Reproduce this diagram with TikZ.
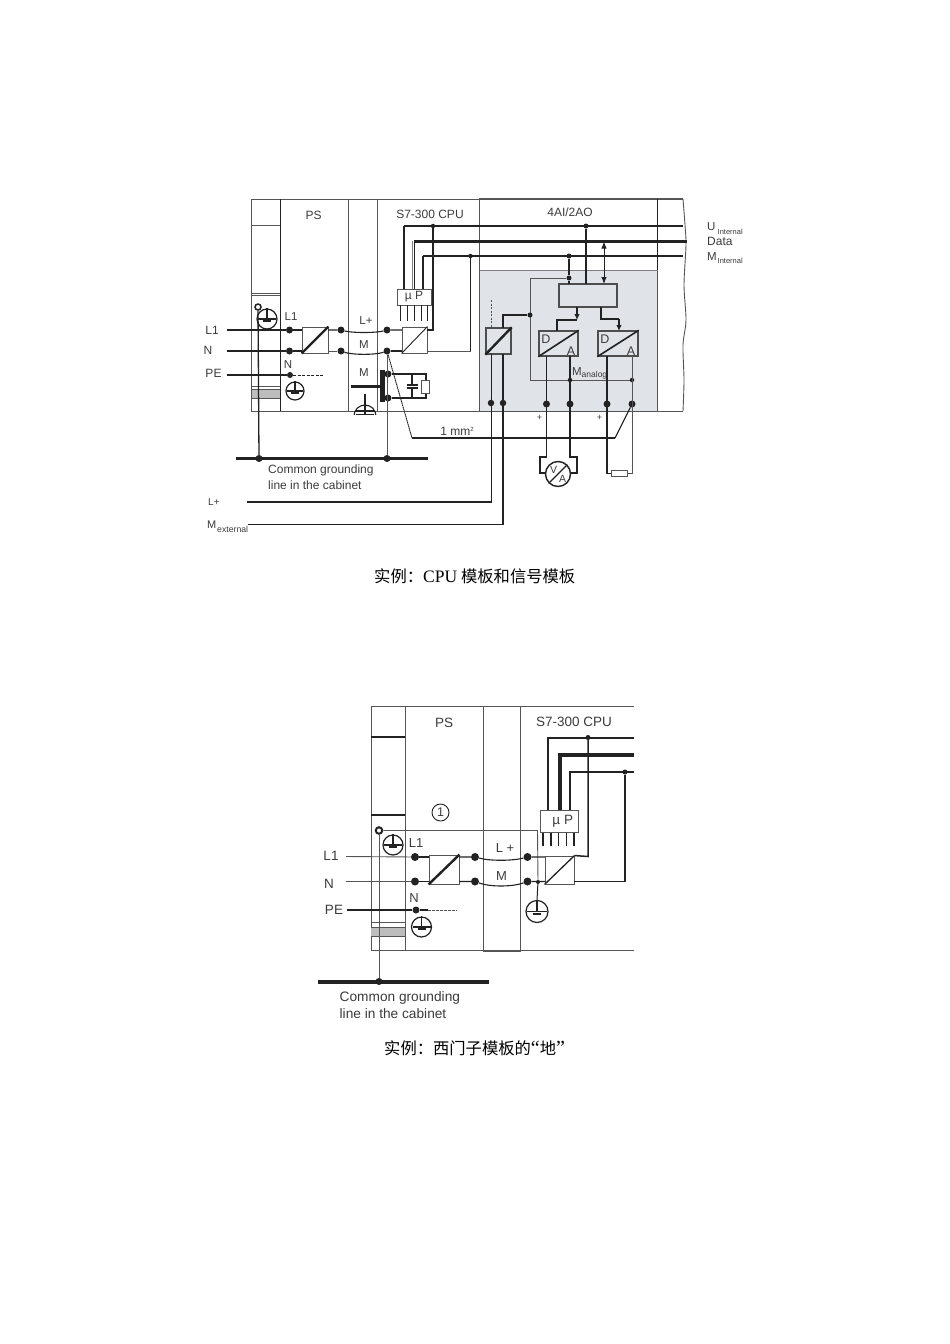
\documentclass[tikz,border=0pt]{standalone}
\usepackage{fontspec}
\setmainfont{Liberation Sans}
\newfontfamily\capserif{Liberation Serif}
\newfontfamily\capcjk{Noto Sans CJK SC}
\usetikzlibrary{arrows.meta,calc}
\definecolor{ink}{HTML}{222222}
\definecolor{txt}{HTML}{3C3C3C}
\definecolor{frameg}{HTML}{555555}
\definecolor{panel}{HTML}{E0E3E8}
\definecolor{band}{HTML}{BDBDBD}
\tikzset{
  lab/.style={inner sep=0pt,text=txt,font=\fontsize{#1}{#1}\selectfont},
  lab/.default=11,
  frame/.style={draw=frameg,line width=0.9pt},
  heavy/.style={draw=ink,line width=1.6pt},
  wire/.style={draw=ink,line width=1.1pt},
  thinw/.style={draw=frameg,line width=0.9pt},
  fat/.style={draw=ink,line width=3pt},
  jn/.style={circle,fill=ink,inner sep=0pt,minimum size=#1},
  jn/.default=7pt,
  conv/.style={draw=frameg,line width=0.9pt,fill=white,inner sep=0pt},
  twoway/.style={draw=ink,line width=1pt,{Latex[length=7pt,width=5.5pt]}-{Latex[length=7pt,width=5.5pt]}},
  oneway/.style={draw=ink,line width=1.4pt,-{Latex[length=6pt,width=5.5pt]}},
  caption/.style={inner sep=0pt,text=black,font=\fontsize{16.3}{16.3}\selectfont\capcjk},
}
\newcommand{\gndsym}[4]{%
  \node[circle,draw=ink,line width=1.2pt,minimum size=#4*2pt,inner sep=0pt,fill=white] (#1) at (#2,#3) {};
  \draw[ink,line width=1.2pt] (#1.north) -- (#1.center);
  \draw[ink,line width=1.2pt] ($(#1.center)+(-#4+1,0)$) -- ($(#1.center)+(#4-1,0)$);
  \draw[ink,line width=1.6pt] ($(#1.center)+(-#4*0.4,2.2)$) -- ($(#1.center)+(#4*0.4,2.2)$);
}
\newcommand{\convbox}[6]{%
  \node[conv,minimum width=#4pt-#2pt,minimum height=#5pt-#3pt] (#1) at ({(#2+#4)/2},{(#3+#5)/2}) {};
  \draw[ink,line width=#6pt] (#1.south west) -- (#1.north east);
}
\newcommand{\panelbox}[6]{%
  \node[conv,fill=panel,draw=ink!80!white,line width=1.3pt,minimum width=#4pt-#2pt,minimum height=#5pt-#3pt] (#1) at ({(#2+#4)/2},{(#3+#5)/2}) {};
  \draw[ink,line width=#6pt] (#1.south west) -- (#1.north east);
}
\begin{document}
\begin{tikzpicture}[x=1pt,y=-1pt]
\useasboundingbox[fill=white] (0,0) rectangle (950,1344);

%%%%%%%%%%%%%%% TOP DIAGRAM
\fill[panel] (479,270) rectangle (657,411);
\draw[frame] (683,199) -- (251.5,199) -- (251.5,411) -- (683,411);
\draw[frame,line width=1.3pt] (683,199) -- (479,199);
\draw[frame] plot[smooth] coordinates {(683,199) (685,225) (686,245) (684,285) (686,320) (683,345) (684,380) (683,411)};
\draw[heavy] (280.5,199) -- (280.5,411);
\draw[frame] (348.5,199) -- (348.5,411);
\draw[frame] (377,199) -- (377,411);
\draw[frame] (479.5,199) -- (479.5,411);
\draw[heavy] (657.5,199) -- (657.5,270);
\draw[frame] (657.5,270) -- (657.5,411);
\draw[frame,draw=gray] (479.5,270) -- (657.5,270);
\draw[thinw] (251.5,225) -- (280,225);
\draw[frame] (251.5,293) -- (280,293);
\draw[frame] (251.5,295.5) -- (280,295.5);
\fill[band] (251.5,389) rectangle (280,398);
\draw[thinw] (251.5,386) -- (280,386);
\draw[thinw] (251.5,389) -- (280,389);
\draw[thinw] (251.5,398) -- (280,398);
\node[lab=12] (tPS) at (313.5,215) {PS};
\node[lab=12] (tCPU) at (430,214) {S7-300 CPU};
\node[lab=12] (tAO) at (570,212) {4AI/2AO};
% uP and CPU converter
\node[draw=frameg,line width=.9pt,fill=white,minimum width=34pt,minimum height=16pt,inner sep=0pt,text=txt,font=\fontsize{12}{12}\selectfont] (tuP) at (414,297) {µ P};
\foreach \x in {400,407,414,421,427} \draw[ink,line width=1pt] (\x,305) -- (\x,321);
\convbox{tc2}{402}{327}{427}{353}{.9}
\convbox{tc1}{302}{327}{328}{353}{2.2}
% buses
\coordinate (tUa) at (404,226);
\coordinate (tUb) at (683,226);
\coordinate (tDa) at (414,241);
\coordinate (tDb) at (687,241);
\coordinate (tMa) at (423,256);
\coordinate (tMb) at (683,256);
\draw[wire] (tUa) -- (tUb);
\draw[fat] (tDa) -- (tDb);
\draw[wire] (tMa) -- (tMb);
\draw[wire] (tUa) -- (tUa |- tuP.north);
\draw[draw=gray,line width=1pt] (412,241) -- (412,289);
\draw[wire,line width=1.4pt] (414.5,241) -- (414.5,289);
\draw[wire] (tMa) -- (tMa |- tuP.north);
\node[lab=11.5,anchor=west] (tUl) at (707,227) {U};
\node[lab=7.5,anchor=west] at (717.5,231.5) {Internal};
\node[lab=12,anchor=west] (tDl) at (707,241) {Data};
\node[lab=11.5,anchor=west] (tMl) at (707,257) {M};
\node[lab=7.5,anchor=west] at (717.5,260.5) {Internal};
\node[jn=4.5pt] (tUj) at (433,226) {};
\node[jn=4.5pt] (tMj) at (470.5,256) {};
\draw[wire] (tUj) -- (433,330) -- (427,330);
\draw[wire,line width=1.6pt] (tMj) -- (470.5,351);
\draw[thinw] (470.5,351) -- (427,351);
% supply lines
\node[lab=12] (tL1) at (212,330) {L1};
\node[lab=12] (tN) at (208,350) {N};
\node[lab=12] (tPE) at (213.5,373) {PE};
\coordinate (tL1s) at (227,330);
\coordinate (tNs) at (227,351);
\coordinate (tPEs) at (227,375);
\node[jn] (tL1d) at (289.5,330) {};
\node[jn] (tNd) at (289.5,351) {};
\node[jn=6pt] (tPEd) at (290,375) {};
\draw[wire] (tL1s) -- (tL1d) -- (302,330);
\draw[wire] (tNs) -- (tNd) -- (302,351);
\draw[wire] (tPEs) -- (tPEd);
\draw[ink,line width=1pt,dash pattern=on 3pt off 1.5pt] (tPEd) -- (324,375);
\node[lab=11.5] at (291,317) {L1};
\node[lab=11.5] at (288,365) {N};
\node[jn] (tp1) at (341,330) {};
\node[jn] (tp2) at (341,351) {};
\node[jn] (tc1r) at (387,330) {};
\node[jn] (tc2r) at (387,351) {};
\draw[wire] (328,330) -- (tp1) .. controls (352,333) and (376,333) .. (tc1r) -- (402,330);
\draw[thinw] (328,351) -- (tp2);
\draw[wire] (tp2) .. controls (352,355) and (376,355) .. (tc2r);
\draw[wire] (tc2r) -- (402,351);
\node[lab=11.5] at (366,321) {L+};
\node[lab=11.5] at (364,345) {M};
\node[lab=11.5] at (364,373) {M};
% earth strap
\fill[ink] (380,370) rectangle (384.5,402);
\draw[fat] (351,386) -- (382,386);
\node[jn] (tsa) at (388,374) {};
\node[jn] (tsb) at (388,398) {};
\draw[wire] (tsa) -- (426,374) -- (426,398) -- (tsb);
\draw[wire] (412,374) -- (412,385);
\draw[wire] (412,388) -- (412,398);
\draw[wire] (406.5,385) -- (417.5,385);
\draw[wire] (406.5,388) -- (417.5,388);
\node[draw=frameg,fill=white,line width=.9pt,minimum width=8pt,minimum height=13pt,inner sep=0pt] (tres) at (425,386.5) {};
\begin{scope}
\clip (351,392) rectangle (377,414.5);
\draw[ink,line width=1.1pt] (365,394) -- (365,416);
\draw[ink,line width=1.1pt] (365,416) circle (11);
\draw[ink,line width=1.1pt] (356,411) -- (374,411);
\end{scope}
\draw[ink,line width=1pt] (356,414) -- (374,414);
% grounds
\node[circle,draw=ink,line width=1.5pt,inner sep=0pt,minimum size=6pt] (tscrew) at (258,307) {};
\gndsym{tg1}{267}{319}{10}
\gndsym{tg2}{295}{391}{9}
% grounding bus
\coordinate (tBa) at (236,458.5);
\coordinate (tBb) at (428,458.5);
\draw[fat] (tBa) -- (tBb);
\node[jn] (tBj1) at (259,458.5) {};
\node[jn] (tBj2) at (387,458.5) {};
\draw[wire,line width=1.3pt] (tscrew) -- (tBj1);
\draw[thinw] (tc2r) -- (tBj2);
\node[lab=12,anchor=west] at (268,470.5) {Common grounding};
\node[lab=12,anchor=west] at (268,485.5) {line in the cabinet};
% external supply
\node[lab=10,anchor=west] (tLp) at (208,502) {L+};
\node[lab=11,anchor=west] (tMe) at (207,525) {M};
\node[lab=8.7,anchor=west] at (217,529) {external};
\coordinate (tLps) at (247,502);
\coordinate (tMes) at (248,524.5);
% analog module
\panelbox{ta0}{486}{328}{511}{354}{2.4}
\node[draw=ink!80!white,line width=1.1pt,fill=panel,minimum width=58pt,minimum height=23pt,inner sep=0pt] (tcb) at (588,295.5) {};
\panelbox{tda1}{539}{331}{578}{356}{1.6}
\panelbox{tda2}{598}{331}{638}{356}{1.6}
\node[lab=12.5] at (546,339) {D};
\node[lab=12.5] at (571,351) {A};
\node[lab=12.5] at (605,339) {D};
\node[lab=12.5] at (631,351) {A};
\node[jn=5pt] (taU) at (586,226) {};
\node[jn=5pt] (taM) at (569,256) {};
\node[jn=5pt] (taM2) at (569,278) {};
\draw[wire,line width=1.5pt] (taU) -- (586,284);
\draw[wire,line width=1.5pt] (taM) -- (taM2) -- (569,284);
\draw[thinw] (taM2) -- (530,278) -- (530,380) -- (632,380);
\node[jn=5pt] (taL) at (530,315) {};
\node[jn=4.5pt] (taA1) at (570,380) {};
\node[jn=4.5pt] (taA2) at (632,380) {};
\draw[twoway] (604,241.5) -- (604,284);
\draw[wire,line width=1.4pt] (557,331) -- (557,320) -- (577,320);
\draw[oneway] (577,307) -- (577,320);
\draw[wire,line width=1.4pt] (601,307) -- (601,319) -- (619,319);
\draw[oneway] (619,319) -- (619,331);
\draw[wire,line width=1.5pt] (taL) -- (503,315) -- (503,328);
\draw[frameg,line width=.8pt,dash pattern=on 2pt off 1.5pt] (491,300) -- (491,328);
\node[lab=11.5,anchor=west] at (572,371.5) {M};
\node[lab=8.5,anchor=west] at (581.5,375) {analog};
\node[jn=6.5pt] (ta1) at (491,403) {};
\node[jn=6.5pt] (ta2) at (503,403) {};
\node[jn=7pt] (ta3) at (546.5,404) {};
\node[jn=7pt] (ta4) at (570,404) {};
\node[jn=7pt] (ta5) at (607,404) {};
\node[jn=7pt] (ta6) at (632,404) {};
\draw[wire,line width=1.3pt] (tLps) -- (491.5,502) -- (491.5,354);
\draw[wire] (tMes) -- (503,524.5);
\draw[wire,line width=1.5pt] (503,524.5) -- (503,354);
\draw[wire,line width=1.5pt] (546.5,356) -- (546.5,457) -- (540,457) -- (540,473) -- (546,473);
\draw[wire,line width=1.5pt] (570,356) -- (570,457) -- (577,457) -- (577,473) -- (570.5,473);
\node[circle,draw=ink,line width=1.4pt,minimum size=25pt,inner sep=0pt,fill=white] (tVA) at (558,474) {};
\draw[ink,line width=1.1pt] (tVA.south west) -- (tVA.north east);
\node[lab=10.5] at (553.5,470) {V};
\node[lab=10.5] at (562.5,478.5) {A};
\node[draw=frameg,line width=.9pt,fill=white,minimum width=16pt,minimum height=6pt,inner sep=0pt] (tR) at (619,473.5) {};
\draw[wire,line width=1.5pt] (607,356) -- (607,473.5) -- (tR.west);
\draw[thinw,line width=1pt] (632,356) -- (632,473.5) -- (tR.east);
\node[lab=9] at (539.5,418) {+};
\node[lab=9] at (599.5,418) {+};
% 1 mm2 line
\draw[ink,line width=.9pt,dash pattern=on 1.5pt off .5pt] (tc2r) -- (412,438);
\draw[wire] (412,438) -- (615,438);
\draw[wire] (615,438) -- (ta6);
\node[lab=12] at (457,431) {1 mm\raisebox{4pt}{\fontsize{6}{6}\selectfont 2}};
\node[caption,anchor=west] (tcap) at (374,576) {实例：{\fontsize{17.5}{17.5}\selectfont\capserif CPU}\hspace{4pt}模板和信号模板};

%%%%%%%%%%%%%%% BOTTOM DIAGRAM
\draw[frame] (634,706.5) -- (371,706.5) -- (371,950.5) -- (634,950.5);
\draw[frame] (405,706.5) -- (405,950.5);
\draw[frame] (483,706.5) -- (483,951.5) -- (520,951.5) -- (520,706.5);
\draw[wire] (371,737) -- (405,737);
\draw[heavy] (371,815) -- (405,815);
\fill[band] (371,927) rectangle (405,936);
\draw[thinw] (371,922) -- (405,922);
\draw[thinw] (371,927) -- (405,927);
\draw[thinw] (371,936) -- (405,936);
\node[lab=13.5] at (444,722.5) {PS};
\node[lab=13.5] at (574,722) {S7-300 CPU};
\node[circle,draw=ink,line width=.9pt,minimum size=17pt,inner sep=0pt,text=txt,font=\fontsize{12.5}{12.5}\selectfont] (bone) at (440.5,812.5) {1};
% ground wire and screw
\node[circle,draw=ink,line width=2pt,inner sep=0pt,minimum size=6.5pt] (bscrew) at (379,830.5) {};
\node[jn=4pt] (bgj) at (538,882) {};
\draw[thinw] (bscrew) -- (537.5,830.5) -- (bgj);
\gndsym{bg1}{393}{845}{10}
\gndsym{bg2}{421.5}{927}{10}
\gndsym{bg3}{537}{911.5}{11}
\draw[ink,line width=1pt] (bgj) -- (bg3.north);
\coordinate (bBa) at (318,981.5);
\coordinate (bBb) at (489,981.5);
\draw[draw=ink,line width=4pt] (bBa) -- (bBb);
\node[jn] (bBj) at (379,981.5) {};
\draw[thinw] (bscrew) -- (bBj);
\node[lab=13.7,anchor=west] at (339.5,998) {Common grounding};
\node[lab=13.7,anchor=west] at (339.5,1014) {line in the cabinet};
% uP
\node[draw=frameg,line width=.9pt,fill=white,minimum width=38pt,minimum height=22pt,inner sep=0pt,text=txt,font=\fontsize{13.5}{13.5}\selectfont] (buP) at (559,821.5) {\ \ µ P};
\foreach \x in {543,551,558.7,566.7,574} \draw[ink,line width=1.1pt] (\x,833) -- (\x,846);
\convbox{bc1}{429}{855}{459}{884}{2.4}
\convbox{bc2}{545}{856}{574}{884}{1.3}
% buses
\coordinate (bUa) at (547.5,737.5);
\coordinate (bUb) at (634,737.5);
\coordinate (bDa) at (560,755);
\coordinate (bDb) at (634,755);
\coordinate (bMa) at (570,772);
\coordinate (bMb) at (634,772);
\draw[wire,line width=2pt] (bUa |- buP.north) -- (bUa) -- (bUb);
\draw[draw=ink,line width=3.5pt] (bDa |- buP.north) -- (bDa) -- (bDb);
\draw[wire] (bMa |- buP.north) -- (bMa) -- (bMb);
\node[jn=5pt] (bUj) at (588,737.5) {};
\node[jn=5pt] (bMj) at (625,772) {};
\draw[wire,line width=1.5pt] (bUj) -- (588,856.5) -- (bc2.north east);
\draw[wire,line width=1.5pt] (bMj) -- (625,881.5) -- (574,881.5);
% supply
\node[lab=13.5] (bL1) at (331,856) {L1};
\node[lab=13.5] (bN) at (329,884) {N};
\node[lab=13.5] (bPE) at (334,910) {PE};
\coordinate (bL1s) at (346,856.5);
\coordinate (bNs) at (346,881.5);
\coordinate (bPEs) at (347,910);
\node[jn=8pt] (bL1d) at (415,857) {};
\node[jn=8pt] (bNd) at (415,881.5) {};
\node[jn=7pt] (bPEd) at (416,910) {};
\draw[thinw] (bL1s) -- (bL1d);
\draw[wire] (bL1d) -- (429,857);
\draw[thinw] (bNs) -- (bNd);
\draw[wire] (bNd) -- (429,881.5);
\draw[wire] (bPEs) -- (bPEd) -- (428,910);
\draw[frameg,line width=.9pt,dash pattern=on 2.5pt off 1.5pt] (428,910) -- (457,910);
\node[lab=13] at (416,843) {L1};
\node[lab=13] at (414,898) {N};
\node[jn=8pt] (bp1) at (475,857) {};
\node[jn=8pt] (bp2) at (475,881.5) {};
\node[jn=8pt] (bq1) at (527.5,857) {};
\node[jn=8pt] (bq2) at (527.5,881.5) {};
\draw[wire] (459,857) -- (bp1) .. controls (490,861) and (512,861) .. (bq1) -- (545,857);
\draw[wire] (459,881.5) -- (bp2) .. controls (490,887) and (512,887) .. (bq2) -- (545,881.5);
\node[lab=13] at (505,848) {L +};
\node[lab=13] at (501.5,876) {M};
\node[caption,anchor=west] (bcap) at (384,1048) {实例：西门子模板的{\fontsize{20}{20}\selectfont\capserif “}地{\fontsize{20}{20}\selectfont\capserif ”}};
\end{tikzpicture}
\end{document}
